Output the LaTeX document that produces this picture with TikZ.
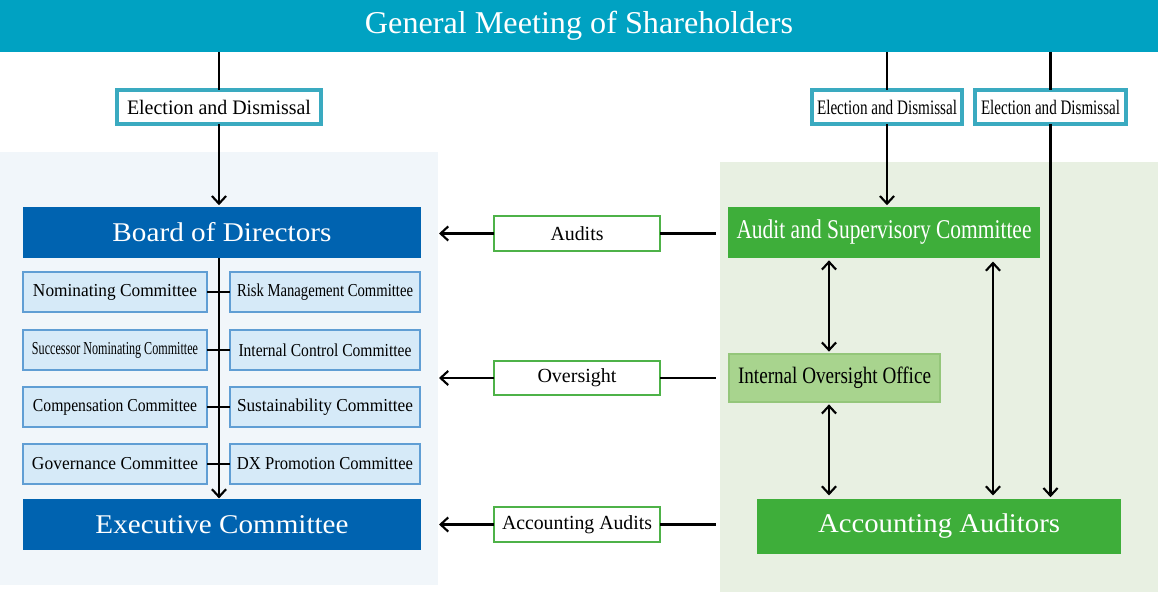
\documentclass[tikz,border=0pt]{standalone}
\usepackage{fontspec}
\setmainfont{Liberation Serif}
\usepackage{graphicx}
\usetikzlibrary{arrows.meta}

\definecolor{gmsTeal}{RGB}{0,162,194}
\definecolor{electEdge}{RGB}{58,170,192}
\definecolor{boardBlue}{RGB}{0,99,176}
\definecolor{commFill}{RGB}{214,234,248}
\definecolor{commEdge}{RGB}{96,158,212}
\definecolor{leftPanel}{RGB}{241,246,250}
\definecolor{rightPanel}{RGB}{232,240,226}
\definecolor{auditGreen}{RGB}{62,174,58}
\definecolor{labelEdge}{RGB}{78,178,72}
\definecolor{officeFill}{RGB}{168,212,142}
\definecolor{officeEdge}{RGB}{148,198,122}

% one drawing unit = 0.85pt
\newdimen\pxd \pxd=0.85pt
% set text to a given width, keeping its height
\newcommand\fitw[2]{\resizebox{#1\pxd}{\height}{#2}}
% node from its corner coordinates: name, style, x1, y1, x2, y2, text
\newcommand\rbox[7]{\node[#2, minimum width={(#5-#3)*0.85pt}, minimum height={(#6-#4)*0.85pt}] (#1) at ({(#3+#5)/2},{(#4+#6)/2}) {#7};}
\newcommand\fs[1]{\fontsize{#1pt}{#1pt}\selectfont}

\begin{document}
\begin{tikzpicture}[x=0.85pt,y=-0.85pt,
  base/.style={rectangle, inner sep=0pt, outer sep=0pt},
  headbox/.style={base, fill=gmsTeal, text=white, font=\fs{27}},
  electbox/.style={base, fill=white, draw=electEdge, line width=2.7pt, text=black, font=\fs{17.5}},
  bluebox/.style={base, fill=boardBlue, text=white, font=\fs{23}},
  commbox/.style={base, fill=commFill, draw=commEdge, line width=2.3pt, text=black, font=\fs{15.5}},
  labelbox/.style={base, fill=white, draw=labelEdge, line width=2.5pt, text=black, font=\fs{17}},
  greenbox/.style={base, fill=auditGreen, text=white, font=\fs{23}},
  officebox/.style={base, fill=officeFill, draw=officeEdge, line width=2pt, text=black, font=\fs{20}},
  conn/.style={line width=1.8pt, draw=black},
  tip/.tip={Straight Barb[length=6.5pt,width=12pt]},
  arr/.style={conn, -tip},
  darr/.style={conn, tip-tip},
]
\useasboundingbox (0,0) rectangle (1158,592);
\fill[white] (0,0) rectangle (1158,592);

% background panels
\fill[leftPanel] (0,152) rectangle (438,585);
\fill[rightPanel] (720,162) rectangle (1158,592);

% top
\rbox{gms}{headbox}{0}{0}{1158}{52}{\raisebox{2pt}{\fitw{428}{General Meeting of Shareholders}}}

\rbox{elecL}{electbox}{117}{90}{321}{124}{\fitw{184}{Election and Dismissal}}
\rbox{elecA}{electbox}{812}{90}{962}{124}{\fitw{140}{Election and Dismissal}}
\rbox{elecB}{electbox}{975}{90}{1126}{124}{\fitw{139}{Election and Dismissal}}

% board side
\rbox{board}{bluebox}{23}{207}{421}{258}{\fitw{219}{Board of Directors}}
\rbox{exec}{bluebox}{23}{499}{421}{550}{\fitw{253}{Executive Committee}}

\rbox{nom}{commbox}{23}{272}{207}{312}{\fitw{164}{Nominating Committee}}
\rbox{risk}{commbox}{230}{272}{420}{312}{\fitw{176}{Risk Management Committee}}
\rbox{succ}{commbox}{23}{330}{207}{370}{\fitw{166}{Successor Nominating Committee}}
\rbox{intc}{commbox}{230}{330}{420}{370}{\fitw{173}{Internal Control Committee}}
\rbox{comp}{commbox}{23}{387}{207}{427}{\fitw{164}{Compensation Committee}}
\rbox{sust}{commbox}{230}{387}{420}{427}{\fitw{176}{Sustainability Committee}}
\rbox{gov}{commbox}{23}{444}{207}{484}{\fitw{166}{Governance Committee}}
\rbox{dx}{commbox}{230}{444}{420}{484}{\fitw{176}{DX Promotion Committee}}

% middle labels
\rbox{audits}{labelbox}{494}{216}{660}{251}{\fitw{53}{Audits}}
\rbox{oversight}{labelbox}{494}{361}{660}{395}{\fitw{79}{Oversight}}
\rbox{accaud}{labelbox}{494}{507}{660}{542}{\fitw{150}{Accounting Audits}}

% audit side
\rbox{asc}{greenbox}{728}{207}{1040}{258}{\fitw{295}{Audit and Supervisory Committee}}
\rbox{ioo}{officebox}{729}{354}{940}{402}{\fitw{193}{Internal Oversight Office}}
\rbox{aa}{greenbox}{757}{499}{1121}{554}{\fitw{242}{Accounting Auditors}}

% guide columns
\coordinate (trunk) at (219,0);
\coordinate (colA) at (829,0);
\coordinate (colB) at (993,0);
\coordinate (boardEdge) at (439,0);
\coordinate (auditEdge) at (716,0);

% elections
\draw[conn] (elecL.north |- gms.south) -- (elecL.north);
\draw[arr, shorten >=1.5pt] (elecL.south) -- (elecL.south |- board.north);
\draw[conn] (elecA.north |- gms.south) -- (elecA.north);
\draw[arr, shorten >=1.5pt] (elecA.south) -- (elecA.south |- asc.north);
\draw[conn] (elecB.north |- gms.south) -- (elecB.north);
\draw[arr, shorten >=1.5pt] (elecB.south) -- (elecB.south |- aa.north);

% board to executive committee
\draw[arr, shorten >=0.5pt] (board.south -| trunk) -- (exec.north -| trunk);
\draw[conn] (nom.east) -- (risk.west);
\draw[conn] (succ.east) -- (intc.west);
\draw[conn] (comp.east) -- (sust.west);
\draw[conn] (gov.east) -- (dx.west);

% audits, oversight, accounting audits
\draw[arr] (audits.west) -- (audits.west -| boardEdge);
\draw[conn] (audits.east) -- (audits.east -| auditEdge);
\draw[arr] (oversight.west) -- (oversight.west -| boardEdge);
\draw[conn] (oversight.east) -- (oversight.east -| auditEdge);
\draw[arr] (accaud.west) -- (accaud.west -| boardEdge);
\draw[conn] (accaud.east) -- (accaud.east -| auditEdge);

% audit side links
\draw[darr, shorten <=2pt, shorten >=2pt] (asc.south -| colA) -- (ioo.north -| colA);
\draw[darr, shorten <=2pt, shorten >=3pt] (ioo.south -| colA) -- (aa.north -| colA);
\draw[darr, shorten <=3pt, shorten >=3pt] (asc.south -| colB) -- (aa.north -| colB);
\end{tikzpicture}
\end{document}
